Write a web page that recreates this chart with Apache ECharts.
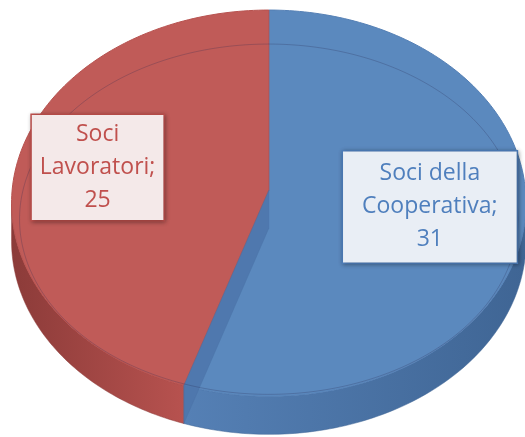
<!DOCTYPE html>
<html>
<head>
<meta charset="utf-8">
<script src="https://cdn.jsdelivr.net/npm/echarts@6/dist/echarts.min.js"></script>
<style>
  html, body { margin: 0; padding: 0; background: #fff; }
  #chart { width: 525px; height: 437px; }
</style>
</head>
<body>
<div id="chart"></div>
<script>
// dati del grafico
const categories = ['Soci della Cooperativa', 'Soci Lavoratori'];
const values = [31, 25];
const labelLines = [['Soci della', 'Cooperativa;'], ['Soci', 'Lavoratori;']];

// colori (stile Excel)
const topColors = ['#5b89be', '#c05b58'];
const sideDark = ['#3f6594', '#8c3b39'];
const sideLight = ['#5580b5', '#b7524f'];
const textColors = ['#4f7fbd', '#c0504d'];
const boxColors = ['#e9eef5', '#f4e9e9'];

const total = values.reduce((a, b) => a + b, 0);

let chart = echarts.init(document.getElementById('chart'), null, {renderer: 'canvas'});

function renderSlice(params, api) {
  let i = params.dataIndex;
  let W = api.getWidth(), H = api.getHeight();
  // ellisse della faccia superiore
  let cx = W * 0.512, cy = H * 0.465;
  let rx = W * 0.49, ry = H * 0.442;
  let depth = 38;
  let centerY = cy - 13;

  let before = 0;
  for (let k = 0; k < i; k++) before += values[k];
  let a0 = before / total * Math.PI * 2;
  let a1 = (before + api.value(1)) / total * Math.PI * 2;

  const pt = (t, dy, rX, rY, cY) => [
    cx + (rX || rx) * Math.sin(t),
    (cY || cy) - (rY || ry) * Math.cos(t) + (dy || 0)
  ];
  const arc = (s, e, dy, rX, rY, cY) => {
    let pts = [];
    let n = Math.max(8, Math.ceil((e - s) / 0.02));
    for (let k = 0; k <= n; k++) pts.push(pt(s + (e - s) * k / n, dy, rX, rY, cY));
    return pts;
  };

  let children = [];

  // parete laterale (solo parte frontale)
  let ws = Math.max(a0, Math.PI / 2), we = Math.min(a1, Math.PI * 1.5);
  if (we > ws) {
    let topArc = arc(ws, we, 0);
    let botArc = arc(ws, we, depth).reverse();
    let leftSide = i === 1;
    children.push({
      type: 'polygon',
      z2: 1,
      shape: {points: topArc.concat(botArc)},
      style: {
        fill: new echarts.graphic.LinearGradient(0, 0, 1, 0, leftSide
          ? [{offset: 0, color: sideDark[i]}, {offset: 1, color: sideLight[i]}]
          : [{offset: 0, color: sideLight[i]}, {offset: 1, color: sideDark[i]}]),
        stroke: sideDark[i],
        lineWidth: 0.5
      }
    });
  }

  // faccia superiore
  children.push({
    type: 'polygon',
    z2: 2,
    shape: {points: [[cx, centerY]].concat(arc(a0, a1, 0))},
    style: {fill: topColors[i], stroke: sideLight[i], lineWidth: 1}
  });

  // taglio radiale visibile della fetta blu
  if (i === 0) {
    let p = pt(a1, 0);
    children.push({
      type: 'polygon',
      z2: 3,
      shape: {points: [[cx, centerY], p, [p[0], p[1] + depth], [cx, centerY + depth]]},
      style: {fill: '#4d76ab', opacity: 0.85, stroke: '#4a72a6', lineWidth: 0.5}
    });
  }

  // bordo interno (smusso)
  children.push({
    type: 'polyline',
    z2: 4,
    shape: {points: arc(a0, a1, 0, rx - 8, ry - 18, cy + 16)},
    style: {stroke: 'rgba(40,40,80,0.25)', lineWidth: 1, fill: null}
  });

  // etichetta
  let mid = (a0 + a1) / 2;
  let lp = pt(mid, i === 0 ? -17 : -14, rx * (i === 0 ? 0.635 : 0.675), ry * (i === 0 ? 0.64 : 0.67));
  children.push({
    type: 'text',
    z2: 10,
    style: {
      text: labelLines[i].concat([String(api.value(1))]).join('\n'),
      x: lp[0],
      y: lp[1],
      align: 'center',
      verticalAlign: 'middle',
      fill: textColors[i],
      font: '23px "Open Sans", Lato, sans-serif',
      lineHeight: 33,
      backgroundColor: boxColors[i],
      borderColor: textColors[i],
      borderWidth: 1.5,
      padding: i === 0 ? [6, 19, 6, 19] : [3, 8, 3, 8],
      shadowColor: 'rgba(0,0,0,0.3)',
      shadowBlur: 4,
      shadowOffsetX: 1,
      shadowOffsetY: 1
    }
  });

  return {type: 'group', children: children};
}

let option = {
  backgroundColor: '#ffffff',
  animation: false,
  series: [{
    type: 'custom',
    coordinateSystem: 'none',
    renderItem: renderSlice,
    data: categories.map((c, i) => [c, values[i]])
  }]
};

chart.setOption(option);
window.addEventListener('resize', () => chart.resize());
</script>
</body>
</html>
